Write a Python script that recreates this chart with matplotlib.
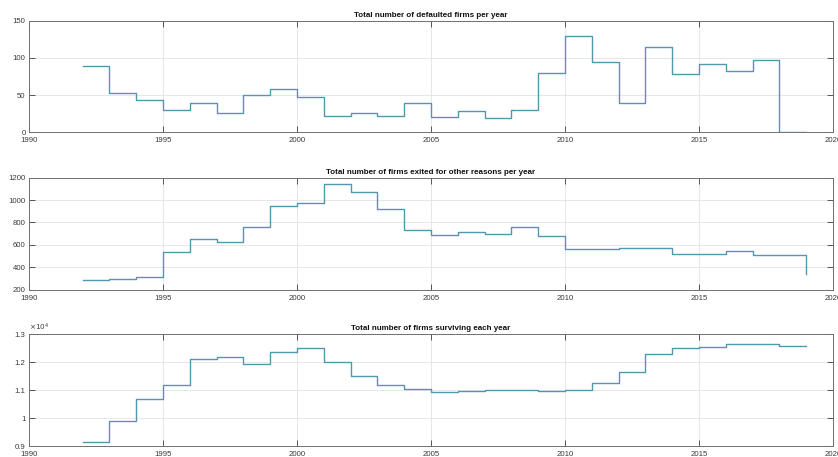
import matplotlib
matplotlib.use("Agg")
import matplotlib.pyplot as plt
from matplotlib.ticker import FuncFormatter

years = list(range(1992, 2020))

defaulted = [89, 53, 43, 30, 39, 26, 50, 58, 47, 22, 26, 22, 39,
             20, 29, 19, 30, 80, 129, 95, 39, 115, 78, 92, 82, 97, 0, 0]

exited_other = [283, 292, 316, 533, 649, 623, 757, 944, 971, 1143, 1069, 923, 730,
                688, 718, 694, 760, 679, 560, 563, 572, 569, 518, 518, 542, 507, 507, 337]

surviving = [9166, 9890, 10685, 11196, 12098, 12169, 11920, 12347, 12490, 12003,
             11493, 11196, 11030, 10947, 10970, 11018, 11018, 10982, 10994, 11243,
             11659, 12300, 12513, 12537, 12632, 12632, 12584, 12584]

titles = ["Total number of defaulted firms per year",
          "Total number of firms exited for other reasons per year",
          "Total number of firms surviving each year"]

x_ticks = [1990, 1995, 2000, 2005, 2010, 2015, 2020]
y_ticks = [[0, 50, 100, 150],
           [200, 400, 600, 800, 1000, 1200],
           [9000, 10000, 11000, 12000, 13000]]
y_lims = [(0, 150), (200, 1200), (9000, 13000)]

plt.rcParams["font.family"] = ["Liberation Sans", "DejaVu Sans"]

fig = plt.figure(figsize=(8.38, 4.57), dpi=100)
fig.patch.set_facecolor("white")

rects = [[0.0346, 0.7105, 0.9595, 0.2442],
         [0.0346, 0.3661, 0.9595, 0.2451],
         [0.0346, 0.0234, 0.9595, 0.2457]]

line_color = "#5397ae"
series = [defaulted, exited_other, surviving]

for i, (rect, vals) in enumerate(zip(rects, series)):
    ax = fig.add_axes(rect)
    ax.step(years, vals, where="post", color=line_color, lw=1.0)
    ax.set_xlim(1990, 2020)
    ax.set_ylim(*y_lims[i])
    ax.set_xticks(x_ticks)
    ax.set_yticks(y_ticks[i])
    ax.grid(True, color="#e3e3e3", lw=0.6)
    ax.set_axisbelow(True)
    for s in ax.spines.values():
        s.set_color("#707070")
        s.set_linewidth(0.7)
    ax.tick_params(direction="in", length=4.2, width=0.7, color="#555555",
                   top=True, right=True, labelsize=5.6, labelcolor="#3a3a3a")
    ax.tick_params(axis="x", pad=3.5)
    ax.tick_params(axis="y", pad=2.5)
    ax.set_title(titles[i], fontsize=5.8, fontweight="bold", pad=3, color="#111111")
    if i == 2:
        ax.yaxis.set_major_formatter(FuncFormatter(lambda v, p: "%g" % (v / 1e4)))
        ax.text(0.0, 1.01, r"$\times10^{4}$", transform=ax.transAxes,
                fontsize=5.2, color="#3a3a3a", ha="left", va="bottom")

fig.savefig("out.png", dpi=100, facecolor="white")
